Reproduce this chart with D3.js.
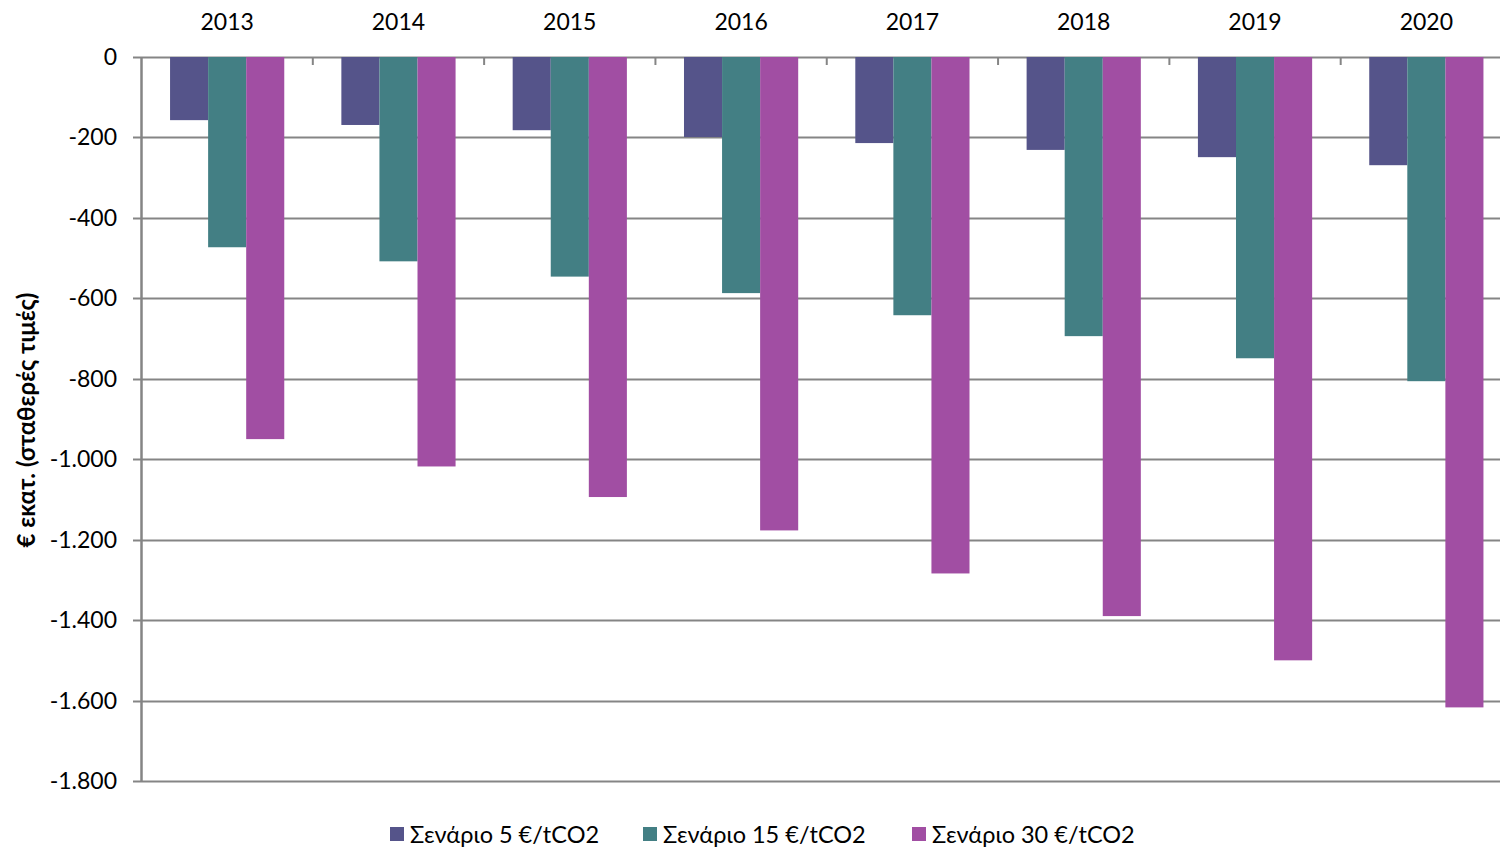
<!DOCTYPE html>
<html>
<head>
<meta charset="utf-8">
<script src="https://cdn.jsdelivr.net/npm/d3@7"></script>
<style>
  body { margin: 0; background: #fff; }
  svg { display: block; font-family: Lato, "Open Sans", sans-serif; }
</style>
</head>
<body>
<svg id="chart" width="1500" height="847"></svg>
<script>
// data
const years = ['2013', '2014', '2015', '2016', '2017', '2018', '2019', '2020']
const seriesNames = ['Σενάριο 5 €/tCO2', 'Σενάριο 15 €/tCO2', 'Σενάριο 30 €/tCO2']
const scen5 = [-157, -169, -182, -199, -214, -231, -249, -269]
const scen15 = [-473, -508, -546, -587, -642, -694, -749, -806]
const scen30 = [-950, -1018, -1094, -1177, -1284, -1390, -1500, -1617]
const yTicks = [0, -200, -400, -600, -800, -1000, -1200, -1400, -1600, -1800]
const colors = ['#55548a', '#437f84', '#a14ea3']

const allSeries = [scen5, scen15, scen30]

const svg = d3.select('#chart')
const plotLeft = 141.5, plotRight = 1512, plotTop = 57, plotBottom = 781

const x = d3.scaleBand().domain(years).range([plotLeft, plotRight])
// the group of 3 bars takes ~2/3 of each band, centred
const inner = d3.scaleBand().domain(d3.range(3))
  .range([0, x.bandwidth()]).paddingOuter(0.75)
const y = d3.scaleLinear().domain([0, -1800]).range([plotTop, plotBottom])

const locale = d3.formatLocale({ decimal: ',', thousands: '.', grouping: [3], currency: ['€', ''], minus: '-' })
const fmt = locale.format(',d')

// gridlines
svg.append('g')
  .selectAll('line')
  .data(yTicks)
  .join('line')
  .attr('x1', 133).attr('x2', 1500)
  .attr('y1', d => Math.round(y(d)) + 0.5).attr('y2', d => Math.round(y(d)) + 0.5)
  .attr('stroke', '#858585').attr('stroke-width', 2)

// bars
const groups = svg.append('g')
  .selectAll('g')
  .data(years)
  .join('g')
  .attr('transform', d => `translate(${x(d)},0)`)

groups.selectAll('rect')
  .data((d, i) => allSeries.map((s, k) => ({ k, v: s[i] })))
  .join('rect')
  .attr('x', d => inner(d.k))
  .attr('width', inner.bandwidth())
  .attr('y', y(0))
  .attr('height', d => y(d.v) - y(0))
  .attr('fill', d => colors[d.k])

// y axis line
svg.append('line')
  .attr('x1', plotLeft).attr('x2', plotLeft)
  .attr('y1', plotTop).attr('y2', plotBottom + 1)
  .attr('stroke', '#858585').attr('stroke-width', 2.5)

svg.append('g')
  .selectAll('text')
  .data(yTicks)
  .join('text')
  .attr('x', 117)
  .attr('y', d => y(d))
  .attr('dy', '0.35em')
  .attr('text-anchor', 'end')
  .attr('font-size', 23)
  .attr('fill', '#000')
  .text(d => fmt(d))

// category ticks on the zero line
svg.append('g')
  .selectAll('line')
  .data(years.slice(1))
  .join('line')
  .attr('x1', d => x(d)).attr('x2', d => x(d))
  .attr('y1', plotTop).attr('y2', plotTop + 8)
  .attr('stroke', '#858585').attr('stroke-width', 2)

// year labels on top
svg.append('g')
  .selectAll('text')
  .data(years)
  .join('text')
  .attr('x', d => x(d) + x.bandwidth() / 2)
  .attr('y', 30)
  .attr('text-anchor', 'middle')
  .attr('font-size', 23)
  .attr('fill', '#000')
  .text(d => d)

// y axis title
svg.append('text')
  .attr('transform', 'translate(35,420) rotate(-90)')
  .attr('text-anchor', 'middle')
  .attr('font-size', 24)
  .attr('font-weight', 'bold')
  .attr('fill', '#000')
  .text('€ εκατ. (σταθερές τιμές)')

// legend
const legendX = [390, 643, 912]
const legend = svg.append('g')
  .selectAll('g')
  .data(seriesNames)
  .join('g')
  .attr('transform', (d, i) => `translate(${legendX[i]},827)`)

legend.append('rect')
  .attr('width', 14).attr('height', 14)
  .attr('fill', (d, i) => colors[i])

legend.append('text')
  .attr('x', 20).attr('y', 7)
  .attr('dy', '0.38em')
  .attr('font-size', 23.5)
  .attr('fill', '#000')
  .text(d => d)
</script>
</body>
</html>
